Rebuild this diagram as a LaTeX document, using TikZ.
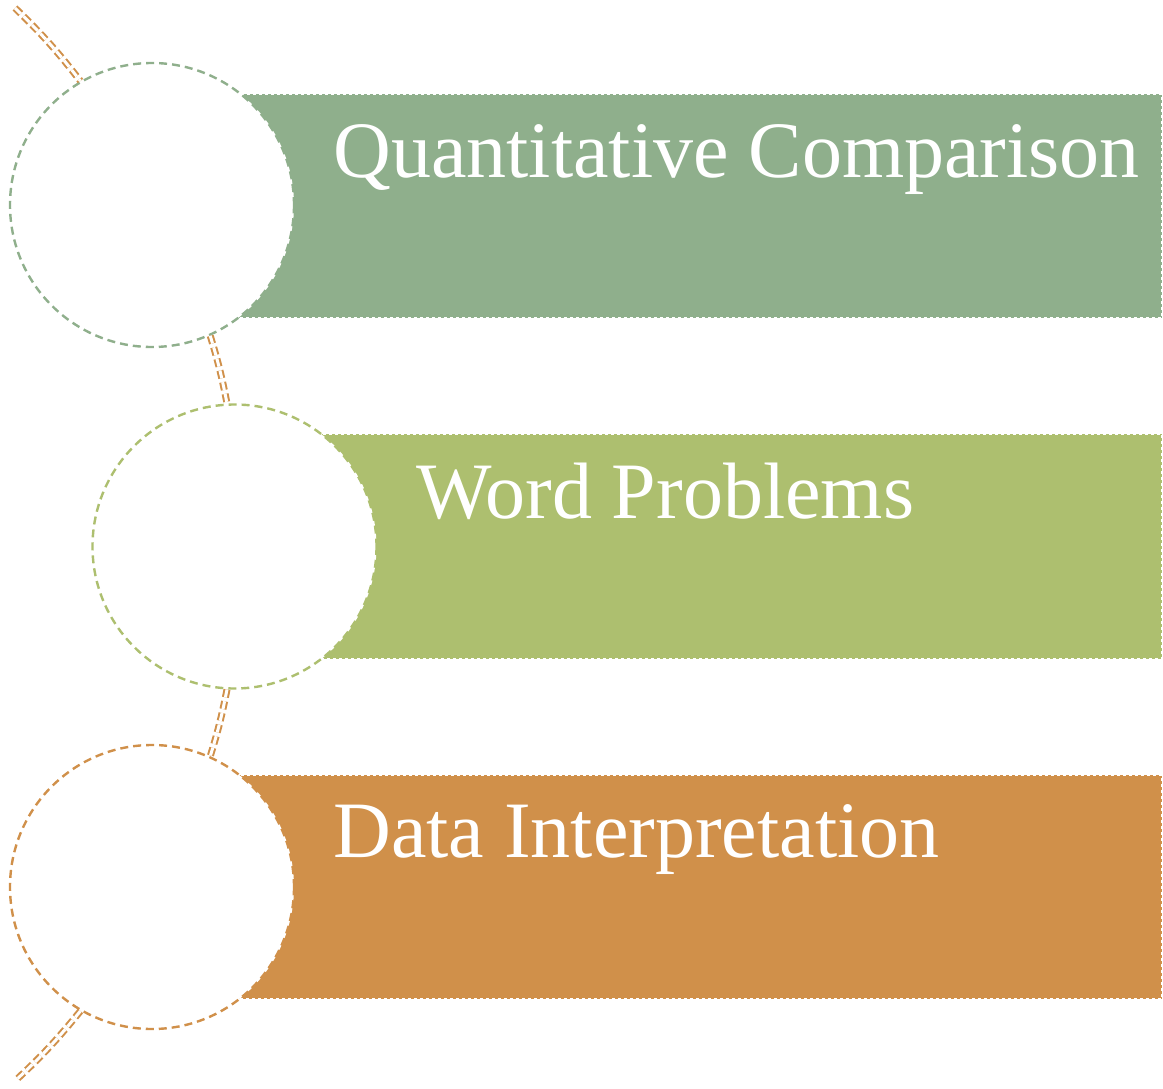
\documentclass[tikz,border=0pt]{standalone}
\usepackage{fontspec}
\setmainfont{Liberation Serif}
\definecolor{qcgreen}{HTML}{8FAF8C}
\definecolor{wpgreen}{HTML}{ADBF6F}
\definecolor{diorange}{HTML}{D0904A}
\begin{document}
\begin{tikzpicture}[x=1pt,y=-1pt,line width=0.5,
  band/.style={draw=white,line width=1.4pt,dash pattern=on 3pt off 3pt},
  ring/.style={circle,fill=white,minimum size=284pt,inner sep=0pt,line width=2.4pt,dash pattern=on 8pt off 5pt},
  link/.style={draw=diorange,double=white,double distance=3pt,line width=2pt,dash pattern=on 8pt off 4pt},
  itemtext/.style={anchor=base west,inner sep=0pt,text=white,font=\fontsize{80}{92}\selectfont}]
\useasboundingbox (0,0) rectangle (1163,1088);
% bands behind the rings
\path[band,fill=qcgreen] (152,94) rectangle (1162,318);
\path[band,fill=wpgreen] (234,434) rectangle (1162,659);
\path[band,fill=diorange] (152,775) rectangle (1162,999);
% rings
\node[ring,draw=qcgreen] (c1) at (152,205) {};
\node[ring,draw=wpgreen] (c2) at (234.5,546.5) {};
\node[ring,draw=diorange] (c3) at (152,887) {};
% chain through the rings
\coordinate (top) at (15,8);
\coordinate (bot) at (15,1081);
\draw[link] (top) to[bend left=4] (c1.120.5);
\draw[link] (c1.-66.4) to[bend left=3] (c2.93.8);
\draw[link] (c2.-93.4) to[bend left=3] (c3.66.7);
\draw[link] (c3.-120) to[bend left=4] (bot);
% titles
\node[itemtext] (t1) at (333,177) {Quantitative Comparison};
\node[itemtext] (t2) at (416,518) {Word Problems};
\node[itemtext] (t3) at (333,857) {Data Interpretation};
\end{tikzpicture}
\end{document}
